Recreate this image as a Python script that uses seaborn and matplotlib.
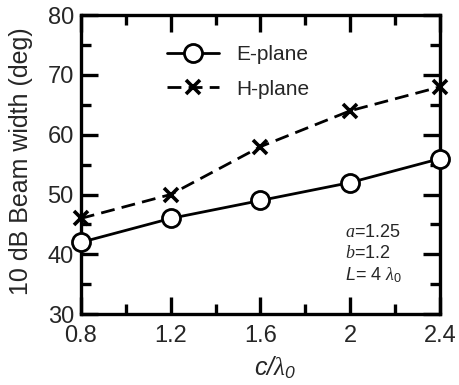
import numpy as np
import pandas as pd
import matplotlib
matplotlib.use("Agg")
import matplotlib.pyplot as plt
import seaborn as sns
from matplotlib.ticker import MultipleLocator

c_ratio = [0.8, 1.2, 1.6, 2.0, 2.4]
e_plane = [42, 46, 49, 52, 56]
h_plane = [46, 50, 58, 64, 68]

sns.set_style("ticks")
plt.rcParams['font.family'] = ['Liberation Sans', 'DejaVu Sans']
plt.rcParams['mathtext.fontset'] = 'custom'
plt.rcParams['mathtext.it'] = 'Liberation Serif:italic'
plt.rcParams['mathtext.sf'] = 'Liberation Sans:italic'
plt.rcParams['mathtext.rm'] = 'Liberation Sans'

fig = plt.figure(figsize=(4.59, 3.85), dpi=100)
ax = fig.add_axes([0.176, 0.184, 0.783, 0.777])

df = pd.DataFrame({'c': c_ratio, 'E': e_plane, 'H': h_plane})

sns.lineplot(data=df, x='c', y='E', ax=ax, color='black', lw=2.0,
             marker='o', markersize=13, markerfacecolor='white',
             markeredgecolor='black', markeredgewidth=2.0, label='E-plane',
             clip_on=False, zorder=3)
sns.lineplot(data=df, x='c', y='H', ax=ax, color='black', lw=2.0,
             linestyle=(0, (5, 2.6)), marker='x', markersize=10,
             markeredgecolor='black', markeredgewidth=2.6, label='H-plane',
             clip_on=False, zorder=3)

ax.set_xlim(0.8, 2.4)
ax.set_ylim(30, 80)
ax.set_xticks([0.8, 1.2, 1.6, 2.0, 2.4])
ax.set_xticklabels(['0.8', '1.2', '1.6', '2', '2.4'])
ax.xaxis.set_minor_locator(MultipleLocator(0.2))
ax.yaxis.set_major_locator(MultipleLocator(10))
ax.yaxis.set_minor_locator(MultipleLocator(5))

for s in ax.spines.values():
    s.set_linewidth(2.4)
    s.set_color('black')
ax.tick_params(which='both', direction='in', top=True, right=True,
               width=2.4, color='black', labelsize=17)
ax.tick_params(which='major', length=12.5)
ax.tick_params(which='minor', length=7.5)
ax.tick_params(axis='x', which='both', pad=8)
ax.tick_params(axis='y', which='both', pad=5)

ax.set_xlabel(r'$\mathsf{c/}\lambda_\mathsf{0}$', fontsize=18, va='baseline')
ax.xaxis.set_label_coords(0.54, -0.204)
ax.set_ylabel('10 dB Beam width (deg)', fontsize=18)
ax.yaxis.set_label_coords(-0.134, 0.51)

leg = ax.legend(loc='upper left', bbox_to_anchor=(0.24, 0.90), frameon=False,
                fontsize=15, handlelength=2.5, handletextpad=0.8,
                labelspacing=0.75, borderaxespad=0, borderpad=0)

ax.text(0.735, 0.274, r'$a$=1.25', transform=ax.transAxes, fontsize=13,
        va='center')
ax.text(0.735, 0.204, r'$b$=1.2', transform=ax.transAxes, fontsize=13,
        va='center')
ax.text(0.735, 0.130, r'$\mathsf{L}$= 4 $\lambda_\mathrm{0}$',
        transform=ax.transAxes, fontsize=13, va='center')

fig.savefig('out.png', dpi=100)
